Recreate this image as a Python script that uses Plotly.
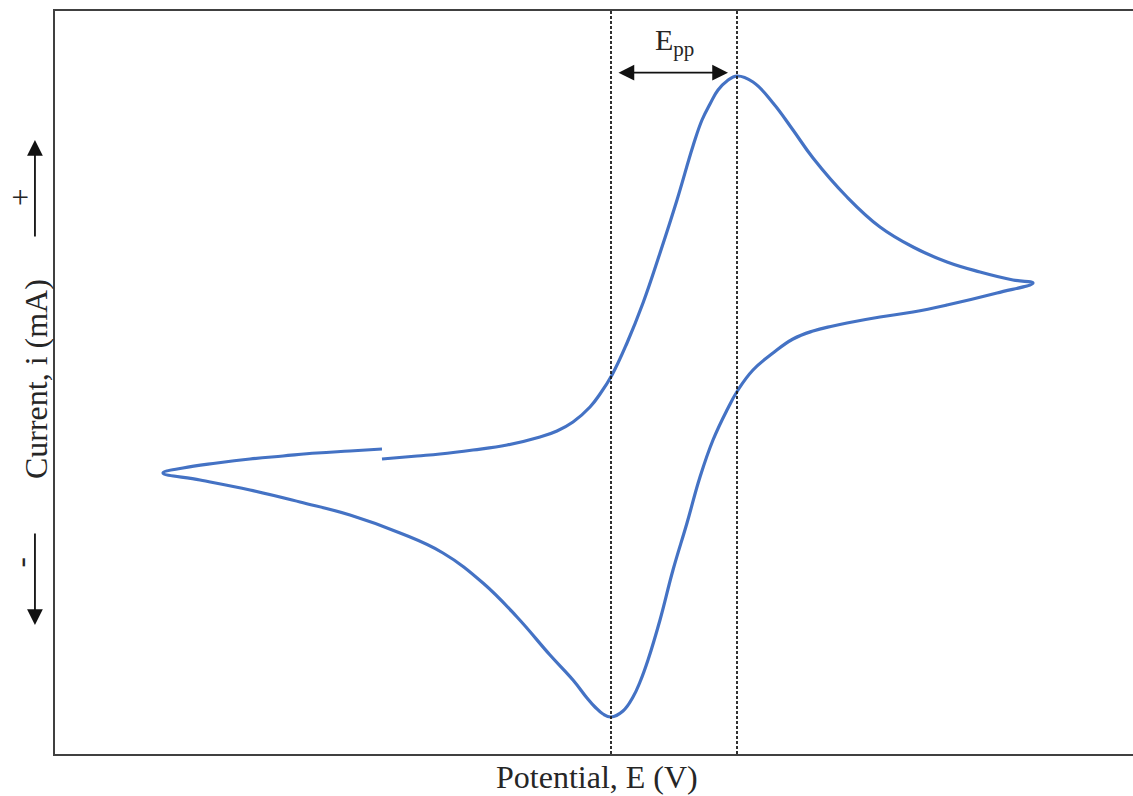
import plotly.graph_objects as go

# Cyclic voltammogram: one continuous scan (forward sweep, reverse sweep, return)
potential_v = [
    -0.018, 0.017, 0.040, 0.073, 0.107, 0.140, 0.157, 0.173, 0.190, 0.200,
    0.212, 0.227, 0.243, 0.260, 0.277, 0.293, 0.302, 0.310, 0.318, 0.327,
    0.337, 0.353, 0.373, 0.393, 0.413, 0.447, 0.480, 0.513, 0.547, 0.580,
    0.613, 0.633,
    0.597, 0.547, 0.513, 0.480, 0.447, 0.433, 0.413, 0.393, 0.373, 0.353,
    0.338, 0.327, 0.313, 0.300, 0.287, 0.273, 0.260, 0.248, 0.240, 0.233,
    0.223, 0.211, 0.203, 0.195, 0.187, 0.173, 0.150, 0.117, 0.083, 0.043,
    0.000, -0.050, -0.100, -0.150, -0.200, -0.237,
    -0.217, -0.183, -0.150, -0.117, -0.083, -0.050, -0.018,
]
current_ma = [
    -0.020, -0.008, 0.000, 0.016, 0.036, 0.068, 0.092, 0.128, 0.188, 0.240,
    0.316, 0.444, 0.604, 0.804, 1.016, 1.232, 1.336, 1.400, 1.456, 1.492,
    1.512, 1.488, 1.404, 1.296, 1.184, 1.028, 0.908, 0.828, 0.768, 0.728,
    0.696, 0.684,
    0.644, 0.596, 0.568, 0.548, 0.524, 0.512, 0.492, 0.460, 0.404, 0.336,
    0.256, 0.176, 0.056, -0.092, -0.276, -0.464, -0.664, -0.824, -0.912, -0.972,
    -1.028, -1.052, -1.040, -1.012, -0.976, -0.904, -0.804, -0.652, -0.516, -0.396,
    -0.316, -0.244, -0.192, -0.144, -0.104, -0.076,
    -0.056, -0.036, -0.020, -0.008, 0.004, 0.012, 0.020,
]

x_range = [-0.345, 0.733]
y_range = [-1.2, 1.772]

# Peak potentials (anodic maximum and cathodic minimum)
i_max = current_ma.index(max(current_ma))
i_min = current_ma.index(min(current_ma))
ep_anodic = potential_v[i_max]
ep_cathodic = potential_v[i_min]

serif = "Liberation Serif, Times New Roman, serif"
text_color = "#262626"
arrow_color = "#111111"

fig = go.Figure()
fig.add_trace(go.Scatter(
    x=potential_v, y=current_ma, mode="lines",
    line=dict(color="#4472C4", width=3.2, shape="spline", smoothing=1.2),
    hoverinfo="skip", showlegend=False,
))

# Vertical dashed guides at the two peak potentials
for ep in (ep_cathodic, ep_anodic):
    fig.add_shape(type="line", xref="x", yref="paper", x0=ep, x1=ep, y0=0, y1=1,
                  line=dict(color="#1a1a1a", width=1.8, dash="3px,2px"))

# Peak-to-peak separation arrow and label
fig.add_annotation(
    x=ep_anodic - 0.009, y=0.917, xref="x", yref="paper",
    ax=ep_cathodic + 0.006, ay=0, axref="x", ayref="pixel",
    showarrow=True, arrowhead=2, arrowside="end+start", arrowsize=1.75,
    arrowwidth=1.8, arrowcolor=arrow_color, text="",
)
fig.add_annotation(
    x=(ep_anodic + ep_cathodic) / 2, y=0.958, xref="x", yref="paper",
    text="E<sub>pp</sub>", showarrow=False,
    font=dict(family=serif, size=30, color=text_color),
    xanchor="center", yanchor="middle",
)

# Axis titles
fig.add_annotation(
    x=0.5028, y=-0.031, xref="paper", yref="paper", text="Potential, E (V)",
    showarrow=False, font=dict(family=serif, size=32, color=text_color),
    xanchor="center", yanchor="middle",
)
fig.add_annotation(
    x=-0.018, y=0.504, xref="paper", yref="paper", text="Current, i (mA)",
    showarrow=False, textangle=-90,
    font=dict(family=serif, size=32, color=text_color),
    xanchor="center", yanchor="middle",
)
fig.add_annotation(
    x=-0.032, y=0.749, xref="paper", yref="paper", text="+",
    showarrow=False, textangle=-90,
    font=dict(family=serif, size=31, color=text_color),
    xanchor="center", yanchor="middle",
)
fig.add_annotation(
    x=-0.032, y=0.257, xref="paper", yref="paper", text="-",
    showarrow=False, textangle=-90,
    font=dict(family=serif, size=31, color=text_color),
    xanchor="center", yanchor="middle",
)

# Direction arrows beside the current axis
fig.add_annotation(
    x=-0.0186, y=0.8264, xref="paper", yref="paper", ax=0, ay=98,
    showarrow=True, arrowhead=2, arrowsize=1.75, arrowwidth=1.8,
    arrowcolor=arrow_color, text="",
)
fig.add_annotation(
    x=-0.0186, y=0.1736, xref="paper", yref="paper", ax=0, ay=-93,
    showarrow=True, arrowhead=2, arrowsize=1.75, arrowwidth=1.8,
    arrowcolor=arrow_color, text="",
)

fig.update_xaxes(range=x_range, showline=True, mirror=True, linecolor="#404040",
                 linewidth=2, showgrid=False, zeroline=False, showticklabels=False,
                 ticks="")
fig.update_yaxes(range=y_range, showline=True, mirror=False, linecolor="#404040",
                 linewidth=2, showgrid=False, zeroline=False, showticklabels=False,
                 ticks="")
fig.update_layout(
    width=1133, height=796,
    margin=dict(l=55, r=0, t=11, b=42),
    paper_bgcolor="white", plot_bgcolor="white",
)

fig.write_html("out.html")
